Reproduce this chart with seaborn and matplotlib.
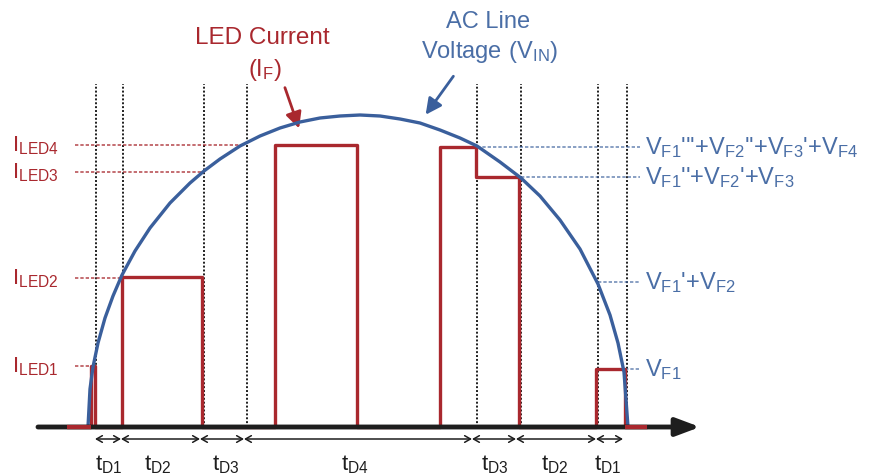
import numpy as np
import pandas as pd
import matplotlib
matplotlib.use("Agg")
import matplotlib.pyplot as plt
import seaborn as sns

# ── data (x in time units across the half cycle, h = height above baseline) ──
volt_x = [88, 90, 93, 98, 105, 113, 122, 135, 150, 170, 190, 204, 220, 240, 260, 280,
          300, 320, 340, 360, 380, 400, 420, 440, 460, 477, 500, 521, 540, 560, 580,
          598, 610, 618, 624, 628]
volt_h = [0, 38, 60, 84, 109, 131, 152, 176, 199, 224, 244, 256, 268, 281, 291, 299,
          305, 309, 311, 312, 311, 308, 304, 297, 289, 281, 265, 249, 231, 207, 178,
          143, 112, 84, 55, 0]

cur_x = [67, 91, 91, 95, 95, 122, 122, 202, 202, 275, 275, 357, 357, 440, 440,
         476, 476, 519, 519, 596, 596, 625, 625, 647]
cur_h = [0, 0, 61, 61, 0, 0, 150, 150, 0, 0, 282, 282, 0, 0, 280,
         280, 250, 250, 0, 0, 58, 58, 0, 0]

# step boundaries (vertical dotted guides)
guide_x = [96, 123, 204, 247, 477, 521, 598, 627]
guide_top = 343

# current levels (left) and voltage thresholds (right)
iled_labels = [r"$\mathregular{I_{LED4}}$", r"$\mathregular{I_{LED3}}$",
               r"$\mathregular{I_{LED2}}$", r"$\mathregular{I_{LED1}}$"]
iled_h = [282, 255, 149, 61]
iled_end = [240, 205, 120, 92]

vf_labels = [r"$\mathregular{V_{F1}}$'''+$\mathregular{V_{F2}}$''+$\mathregular{V_{F3}}$'+$\mathregular{V_{F4}}$",
             r"$\mathregular{V_{F1}}$''+$\mathregular{V_{F2}}$'+$\mathregular{V_{F3}}$",
             r"$\mathregular{V_{F1}}$'+$\mathregular{V_{F2}}$",
             r"$\mathregular{V_{F1}}$"]
vf_h = [280, 250, 145, 58]
vf_start = [477, 521, 598, 625]

# time intervals
t_edges = [95, 121, 200, 244, 472, 516, 596, 623]
t_labels = ["D1", "D2", "D3", "D4", "D3", "D2", "D1"]
t_label_x = [109, 158, 226, 355, 495, 555, 608]

RED = "#a9282e"
BLUE = "#3a5f9c"
BLUE_TXT = "#4a6ea6"
DARK = "#1e1e1e"

sns.set_theme(style="white")
plt.rcParams["font.family"] = ["Liberation Sans", "DejaVu Sans"]
plt.rcParams["mathtext.fontset"] = "custom"
plt.rcParams["mathtext.rm"] = "Liberation Sans"

fig = plt.figure(figsize=(8.75, 4.77), dpi=100)
ax = fig.add_axes([0, 0, 1, 1])

# vertical dotted guides
for gx in guide_x:
    ax.plot([gx, gx], [0, guide_top], color=DARK, lw=1.4, ls=(0, (1, 1)), zorder=1)

# level reference lines
for h, xe in zip(iled_h, iled_end):
    ax.plot([75, xe], [h, h], color=RED, lw=1.2, ls=(0, (2, 1.2)), alpha=0.8, zorder=1)
for h, xs in zip(vf_h, vf_start):
    ax.plot([xs, 640], [h, h], color=BLUE, lw=1.2, ls=(0, (2, 1.2)), alpha=0.7, zorder=1)

# LED current waveform
cur_df = pd.DataFrame({"x": cur_x, "h": cur_h})
sns.lineplot(data=cur_df, x="x", y="h", sort=False, estimator=None,
             color=RED, lw=2.4, ax=ax, zorder=3)

# baseline axis with arrow (covers the zero-current stretches)
ax.annotate("", xy=(700, 0), xytext=(38, 0),
            arrowprops=dict(arrowstyle="-|>,head_length=1.2,head_width=0.45",
                            lw=3.5, color=DARK, shrinkA=0, shrinkB=0), zorder=5)
# red stubs at both ends stay visible on top of the axis
ax.plot(cur_x[:2], cur_h[:2], color=RED, lw=3, zorder=6, solid_capstyle="butt")
ax.plot(cur_x[-2:], cur_h[-2:], color=RED, lw=3, zorder=6, solid_capstyle="butt")

# AC line voltage
volt_df = pd.DataFrame({"x": volt_x, "h": volt_h})
sns.lineplot(data=volt_df, x="x", y="h", sort=False, estimator=None,
             color=BLUE, lw=2.4, ax=ax, zorder=4)

ax.set_xlim(0, 875)
ax.set_ylim(-49, 428)
ax.axis("off")

# level labels
for lab, h in zip(iled_labels, iled_h):
    ax.text(12, h, lab, color=RED, fontsize=16, ha="left", va="center")
for lab, h in zip(vf_labels, vf_h):
    ax.text(645, h, lab, color=BLUE_TXT, fontsize=17, ha="left", va="center")

# time interval dimension line
for a, b in zip(t_edges[:-1], t_edges[1:]):
    ax.annotate("", xy=(b, -12), xytext=(a, -12),
                arrowprops=dict(arrowstyle="<->,head_length=0.35,head_width=0.2",
                                lw=1.1, color=DARK, shrinkA=0, shrinkB=0))
for lab, tx in zip(t_labels, t_label_x):
    ax.text(tx, -37, r"$\mathregular{t_{%s}}$" % lab, color=DARK, fontsize=16,
            ha="center", va="center")

# annotations
ax.text(262, 390, "LED Current", color=RED, fontsize=17.5, ha="center", va="center")
ax.text(265, 358, r"$\mathregular{(I_F)}$", color=RED, fontsize=17, ha="center", va="center")
ax.annotate("", xy=(300, 296), xytext=(284, 342),
            arrowprops=dict(arrowstyle="-|>,head_length=0.8,head_width=0.4",
                            lw=2, color=RED))
ax.text(488, 406, "AC Line", color=BLUE_TXT, fontsize=17, ha="center", va="center")
ax.text(490, 376, r"$\mathregular{Voltage\ (V_{IN})}$", color=BLUE_TXT, fontsize=17,
        ha="center", va="center")
ax.annotate("", xy=(424, 310), xytext=(455, 353),
            arrowprops=dict(arrowstyle="-|>,head_length=0.8,head_width=0.4",
                            lw=2, color=BLUE))

fig.savefig("out.png", dpi=100)
